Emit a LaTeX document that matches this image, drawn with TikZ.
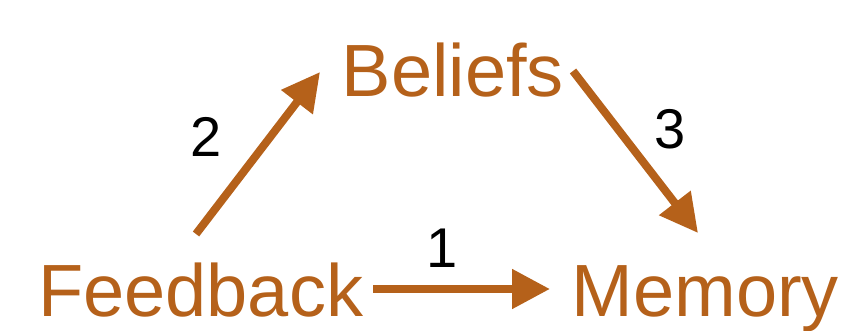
\documentclass[tikz,border=0pt]{standalone}
\usepackage{fontspec}
\setmainfont{Liberation Sans}
\usetikzlibrary{arrows.meta}
\definecolor{rust}{RGB}{181,97,26}
\begin{document}
\begin{tikzpicture}[x=1pt,y=1pt,
  word/.style={text=rust,font=\fontsize{74}{74}\selectfont,inner sep=0pt,anchor=base west},
  num/.style={text=black,font=\fontsize{56}{56}\selectfont,inner sep=0pt,anchor=base},
  link/.style={draw=rust,line width=8pt,-{Triangle[length=38pt,width=38pt]}}]
\useasboundingbox (0,0) rectangle (847,330);
\node[word] (fb) at (38,14) {Feedback};
\node[word] (mem) at (571.5,14) {Memory};
\node[word] (bel) at (341.6,233) {Beliefs};
\node[num] (n2) at (206,173) {2};
\node[num] (n1) at (442,63) {1};
\node[num] (n3) at (670,181) {3};
\coordinate (a1s) at (373,41);
\coordinate (a1e) at (550,41);
\coordinate (a2s) at (196,96);
\coordinate (a2e) at (320,258);
\coordinate (a3s) at (573,259);
\coordinate (a3e) at (698,97);
\draw[link] (a1s) -- (a1e);
\draw[link] (a2s) -- (a2e);
\draw[link] (a3s) -- (a3e);
\end{tikzpicture}
\end{document}
